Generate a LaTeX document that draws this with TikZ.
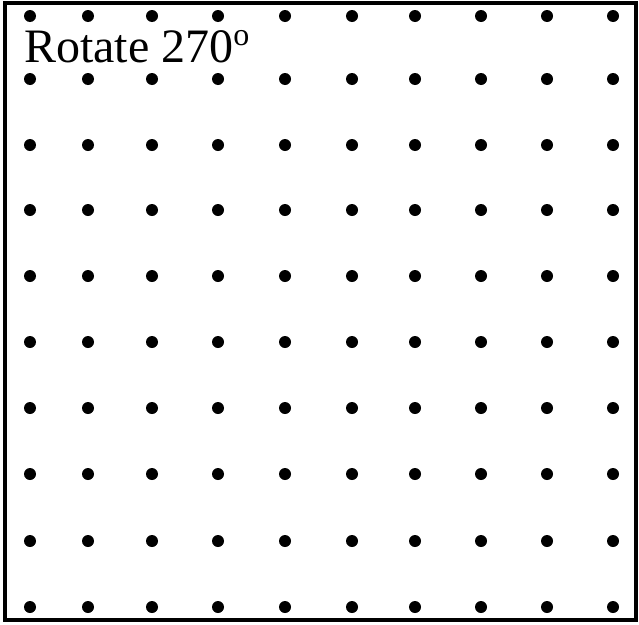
\documentclass[tikz,border=0pt]{standalone}
\usepackage{fontspec}
\setmainfont{Liberation Serif}
\tikzset{dot/.style={fill=black, draw=none}}
\begin{document}
\begin{tikzpicture}[x=1pt,y=-1pt]
    \useasboundingbox (0,0) rectangle (639,624);
    \draw[line width=4pt] (4.5,3) rectangle (635.5,619.5);

%    dot grid, 10 by 10
    \foreach \y in {16,79,145,210,276,342,408,474,541,607}
        \foreach \x in {30,88,152,218,285,352,415,481,547,613}
            \fill[dot] (\x,\y) circle (6);

\node[anchor=base west, inner sep=0pt, font=\fontsize{48}{58}\selectfont] (title) at (24,62) {Rotate 270\raisebox{17pt}{\fontsize{32}{32}\selectfont o}};

\end{tikzpicture}
\end{document}
